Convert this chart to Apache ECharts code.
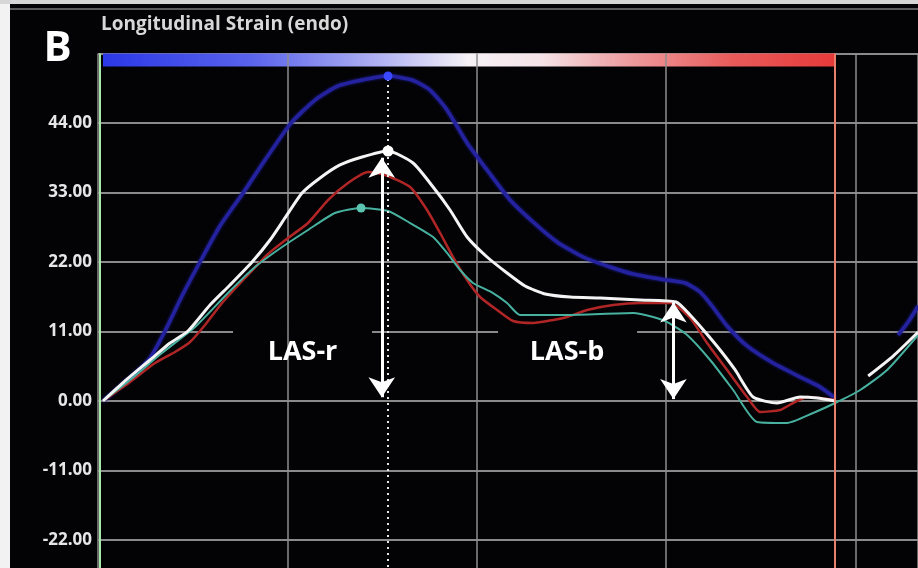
<!DOCTYPE html>
<html>
<head>
<meta charset="utf-8">
<script src="https://cdn.jsdelivr.net/npm/echarts@6/dist/echarts.min.js"></script>
<style>html,body{margin:0;padding:0;background:#030306;}#c{width:918px;height:568px;}</style>
</head>
<body>
<div id="c"></div>
<script>
// ---- data (time in ms, strain in %) ----
const yTickValues = [-22, -11, 0, 11, 22, 33, 44];
const blueSeries = [[5.3,0],[33.8,3.64],[54.9,6.81],[70.8,11.08],[88.7,16.62],[107.7,22.0],[128.8,27.7],[153.2,32.92],[176.4,38.14],[203.9,44.0],[229.2,47.64],[253.5,49.86],[278.9,50.81],[306.3,51.44],[331.7,50.81],[350.7,49.2],[368.6,46.06],[389.8,40.84],[410.9,36.56],[435.2,31.81],[459.5,28.33],[484.8,25.17],[512.3,22.79],[540.8,21.21],[565.1,20.1],[593.6,19.31],[620.0,18.68],[635.9,17.25],[648.5,15.04],[664.4,11.87],[685.5,8.71],[713.0,6.01],[741.5,3.8],[762.6,2.22],[778.5,0.47],[800,null],[845.0,10.45],[855.6,12.5],[866.2,15.04]];
const whiteSeries = [[5.3,0],[28.5,3.17],[54.9,6.49],[76.1,9.18],[95.1,11.08],[118.3,15.19],[139.4,18.36],[162.7,22.0],[181.7,25.48],[197.5,28.97],[215.5,32.92],[234.5,35.3],[255.6,37.36],[278.9,38.62],[306.3,39.57],[332.7,37.67],[353.9,33.87],[371.8,30.23],[389.8,25.96],[410.9,22.79],[432.0,20.26],[451.0,18.2],[472.2,16.94],[498.6,16.46],[530.3,16.3],[572.5,15.99],[610.5,15.67],[625.3,13.61],[641.2,10.92],[657.0,8.07],[672.9,4.91],[691.9,0.63],[717.2,-0.32],[741.5,0.63],[759.5,0.47],[778.5,0],[800,null],[813.4,3.96],[839.8,7.12],[866.2,10.92]];
const redSeries = [[5.3,0],[33.8,3.01],[60.2,6.01],[81.3,7.76],[97.2,9.34],[113.0,12.03],[131.0,15.51],[155.3,19.47],[179.6,23.27],[200.7,25.8],[221.8,28.17],[242.9,31.81],[264.0,34.51],[285.2,36.25],[303.2,35.77],[329.6,33.87],[347.5,30.23],[361.3,26.59],[375.0,22.79],[389.8,19.15],[403.5,16.46],[421.5,14.4],[438.4,12.66],[459.5,12.35],[480.6,12.82],[495.4,13.3],[516.5,14.4],[544.0,15.19],[572.5,15.51],[604.2,15.51],[625.3,13.14],[643.2,9.18],[664.4,4.91],[685.5,0.63],[699.3,-1.74],[720.4,-1.42],[734.1,-0.32],[748.9,0.63],[778.5,0.16]];
const tealSeries = [[5.3,0],[33.8,3.32],[67.6,7.6],[102.5,11.71],[137.3,17.09],[165.8,21.21],[194.4,24.37],[221.8,27.07],[250.3,29.76],[277.8,30.55],[306.3,30.07],[329.6,28.17],[353.9,25.96],[368.6,23.43],[382.4,20.73],[396.1,18.68],[417.2,17.09],[432.0,15.51],[445.8,13.61],[495.4,13.61],[565.1,13.93],[586.3,13.3],[601.1,12.5],[622.2,10.45],[646.5,6.49],[670.8,1.74],[696.1,-3.32],[727.8,-3.48],[755.3,-1.9],[778.5,-0.32],[804.9,1.74],[833.4,4.91],[866.2,10.45]];
const bluePeak = [306.3, 51.44];
const whitePeak = [306.3, 39.57];
const tealPeak = [277.8, 30.55];
const peakTime = [306.3];
const endSystoleTime = [778.5];
const startTime = [2];
const lasrArrow = [299.7, 38.5, 0.6];   // time, top, bottom
const lasbArrow = [607.7, 15.6, 0.3];
const lasLabels = [['LAS-r', 216, 7.76], ['LAS-b', 495.4, 7.76]];
const colorbarRange = [5.3, 778.5, 52.95, 55];
const labelBoxes = [[142.6, 289.4], [422.5, 569.3]];
const labelBoxV = [9.7, 12.3];

const FONT = "'Open Sans', 'DejaVu Sans', sans-serif";
const chart = echarts.init(document.getElementById('c'), null, {renderer: 'canvas', width: 918, height: 568});

const barGrad = new echarts.graphic.LinearGradient(0, 0, 1, 0, [
  {offset: 0, color: '#2b38e6'}, {offset: 0.2, color: '#5862ec'}, {offset: 0.38, color: '#b2b2f4'},
  {offset: 0.5, color: '#f6f2f6'}, {offset: 0.6, color: '#f4e2e6'}, {offset: 0.72, color: '#ee9a9e'},
  {offset: 0.86, color: '#e85a5a'}, {offset: 1, color: '#e63a3a'}
]);

const areaData = [[
  {xAxis: colorbarRange[0], yAxis: colorbarRange[2], itemStyle: {color: barGrad}},
  {xAxis: colorbarRange[1], yAxis: colorbarRange[3]}
]];
labelBoxes.forEach(b => areaData.push([
  {xAxis: b[0], yAxis: labelBoxV[0], itemStyle: {color: '#030306'}},
  {xAxis: b[1], yAxis: labelBoxV[1]}
]));

const option = {
  backgroundColor: '#030306',
  animation: false,
  grid: {left: 98, right: 0, top: 53.5, height: 556, outerBoundsMode: 'none', containLabel: false},
  xAxis: {
    type: 'value', min: 0, max: 866, interval: 200, z: 2,
    axisLine: {show: false}, axisTick: {show: false}, axisLabel: {show: false},
    splitLine: {show: true, lineStyle: {color: '#8e8e8e', width: 1.5}}
  },
  yAxis: {
    type: 'value', min: -33, max: 55, interval: 11, z: 0,
    axisLine: {show: false},
    axisTick: {show: false},
    axisLabel: {
      color: '#e6e6e6', fontFamily: FONT, fontWeight: 700, fontSize: 17, margin: 6,
      formatter: v => yTickValues.includes(v) ? v.toFixed(2) : ''
    },
    splitLine: {show: true, lineStyle: {color: '#8a8a8a', width: 2}}
  },
  graphic: [
    {type: 'rect', z: 100, shape: {x: 0, y: 0, width: 10, height: 568}, style: {fill: '#f2f2f2'}},
    {type: 'rect', z: 100, shape: {x: 0, y: 0, width: 918, height: 4}, style: {fill: '#d6d6d6'}},
    {type: 'line', z: 100, shape: {x1: 10, y1: 9, x2: 918, y2: 9}, style: {stroke: '#7a7a7a', lineWidth: 1.5}},
    {type: 'text', z: 100, x: 57.5, y: 49, style: {text: 'B', fill: '#ffffff', fontSize: 42, fontWeight: 700, fontFamily: FONT, align: 'center', verticalAlign: 'middle'}},
    {type: 'text', z: 100, x: 101, y: 25, style: {text: 'Longitudinal Strain (endo)', fill: '#d8d8d8', fontSize: 19, fontWeight: 700, fontFamily: FONT, align: 'left', verticalAlign: 'middle'}}
  ],
  series: [
    {
      type: 'line', name: 'annot', data: [[0, -40]], symbol: 'none', silent: true,
      lineStyle: {opacity: 0}, z: 3,
      markArea: {silent: true, label: {show: false}, data: areaData},
      markLine: {
        silent: true, symbol: 'none', label: {show: false},
        data: [
          {xAxis: startTime[0], lineStyle: {color: '#a8e8a8', width: 2, type: 'solid'}},
          {xAxis: endSystoleTime[0], lineStyle: {color: '#e8806e', width: 2, type: 'solid'}},
          [{coord: [peakTime[0], 51.9], lineStyle: {color: '#e4e4e4', width: 2, type: [2, 4]}}, {coord: [peakTime[0], -33]}]
        ]
      },
      markPoint: {
        silent: true, symbol: 'circle', symbolSize: 1, itemStyle: {color: 'rgba(0,0,0,0)'},
        label: {show: true, position: 'inside', color: '#ffffff', fontFamily: FONT, fontWeight: 700, fontSize: 27, formatter: p => p.name},
        data: lasLabels.map(l => ({name: l[0], coord: [l[1], l[2]]}))
      }
    },
    {
      type: 'line', name: 'Basal', data: blueSeries, symbol: 'none', smooth: 0.2, z: 3,
      lineStyle: {color: '#24229e', width: 3.5, shadowColor: '#2020a0', shadowBlur: 3},
      markPoint: {silent: true, symbol: 'circle', symbolSize: 9, itemStyle: {color: '#3a48ff'}, label: {show: false}, data: [{coord: bluePeak}]}
    },
    {
      type: 'line', name: 'Mid', data: redSeries, symbol: 'none', smooth: 0.2, z: 3,
      lineStyle: {color: '#b02626', width: 2.5}
    },
    {
      type: 'line', name: 'Apical', data: tealSeries, symbol: 'none', smooth: 0.2, z: 3,
      lineStyle: {color: '#48b09e', width: 2},
      markPoint: {silent: true, symbol: 'circle', symbolSize: 9, itemStyle: {color: '#5cc4b0'}, label: {show: false}, data: [{coord: tealPeak}]}
    },
    {
      type: 'line', name: 'Global', data: whiteSeries, symbol: 'none', smooth: 0.2, z: 4,
      lineStyle: {color: '#f4f4f4', width: 3},
      markPoint: {silent: true, symbol: 'circle', symbolSize: 11, itemStyle: {color: '#ffffff'}, label: {show: false}, data: [{coord: whitePeak}]},
      markLine: {
        silent: true, symbol: ['arrow', 'arrow'], symbolSize: [20, 20], label: {show: false},
        lineStyle: {color: '#ffffff', width: 3, type: 'solid'},
        data: [
          [{coord: [lasrArrow[0], lasrArrow[1]]}, {coord: [lasrArrow[0], lasrArrow[2]]}],
          [{coord: [lasbArrow[0], lasbArrow[1]]}, {coord: [lasbArrow[0], lasbArrow[2]]}]
        ]
      }
    }
  ]
};
chart.setOption(option);
</script>
</body>
</html>
